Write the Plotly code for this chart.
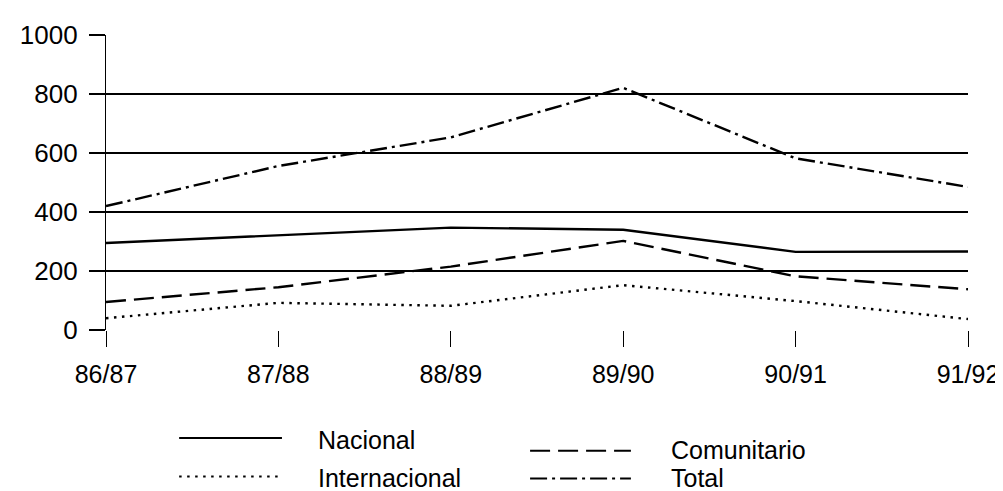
import plotly.graph_objects as go

categories = ["86/87", "87/88", "88/89", "89/90", "90/91", "91/92"]
nacional = [295, 322, 347, 340, 265, 266]
comunitario = [95, 145, 215, 302, 182, 138]
internacional = [40, 92, 82, 152, 98, 37]
total = [420, 556, 653, 821, 582, 485]
y_ticks = [0, 200, 400, 600, 800, 1000]

series = [
    ("Nacional", nacional, "solid"),
    ("Comunitario", comunitario, "20px,8px"),
    ("Internacional", internacional, "2.5px,5.5px"),
    ("Total", total, "17px,5px,3px,5px"),
]

FONT = "Liberation Sans, Arial, sans-serif"
W, H = 1003, 491
L, R, T, B = 96, 35, 24, 169
PW, PH = W - L - R, H - T - B

fig = go.Figure()
xs = list(range(len(categories)))
for name, vals, dash in series:
    fig.add_trace(go.Scatter(x=xs, y=vals, mode="lines", name=name,
                             line=dict(color="black", width=2.4, dash=dash),
                             showlegend=False))

def px2paper(px, py):
    return (px - L) / PW, (H - B - py) / PH

# manual legend: name, dash, line x0, line x1, line y, text x, text y
legend_items = [
    ("Nacional", "solid", 170, 274, 431, 309, 433),
    ("Internacional", "2.5px,5.5px", 170, 272, 470, 309, 471),
    ("Comunitario", "20px,8px", 525, 627, 444, 667, 443),
    ("Total", "17px,5px,3px,5px", 525, 627, 472, 667, 471),
]
shapes = []
annotations = []
for name, dash, x0, x1, ly, tx, ty in legend_items:
    a0, b0 = px2paper(x0, ly)
    a1, _ = px2paper(x1, ly)
    shapes.append(dict(type="line", xref="paper", yref="paper", x0=a0, x1=a1, y0=b0, y1=b0,
                       line=dict(color="black", width=2, dash=dash)))
    ta, tb = px2paper(tx, ty)
    annotations.append(dict(xref="paper", yref="paper", x=ta, y=tb, text=name,
                            showarrow=False, xanchor="left", yanchor="middle",
                            borderpad=0,
                            font=dict(family=FONT, size=25, color="black")))

fig.update_layout(
    width=W, height=H,
    margin=dict(l=L, r=R, t=T, b=B),
    paper_bgcolor="white", plot_bgcolor="white",
    font=dict(family=FONT, size=26, color="black"),
    shapes=shapes, annotations=annotations,
    showlegend=False,
)
fig.update_xaxes(
    range=[0, len(categories) - 1], tickmode="array", tickvals=xs, ticktext=categories,
    showgrid=False, zeroline=False, showline=False,
    ticks="outside", ticklen=16, tickwidth=1.3, tickcolor="black",
    ticklabelstandoff=6,
    tickfont=dict(family=FONT, size=25, color="black"),
)
fig.update_yaxes(
    range=[0, 1000], tickmode="array", tickvals=y_ticks,
    showgrid=True, gridcolor="black", gridwidth=1.5,
    zeroline=False, showline=True, linecolor="black", linewidth=1.3,
    ticks="outside", ticklen=16, tickwidth=1.5, tickcolor="black",
    ticklabelstandoff=6,
    tickfont=dict(family=FONT, size=26, color="black"),
)

fig.write_html("out.html")
